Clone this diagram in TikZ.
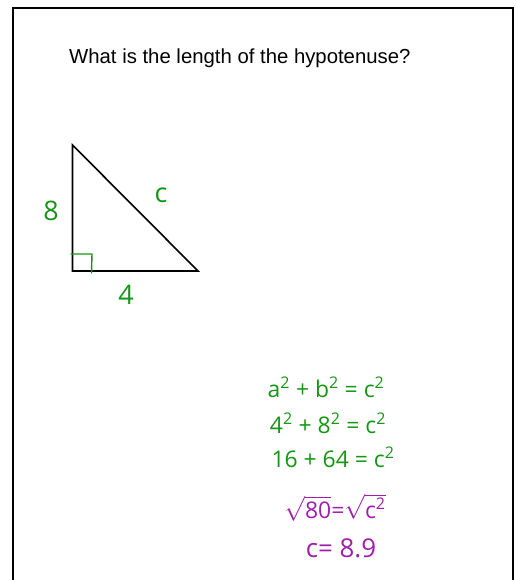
\documentclass[tikz,border=0pt]{standalone}
\usepackage{fontspec}
\setmainfont{Liberation Sans}
\newfontfamily\handfont{Open Sans}
\usetikzlibrary{positioning, calc}
\definecolor{pengreen}{RGB}{20,150,20}
\definecolor{penpurple}{RGB}{160,30,170}
\newcommand{\sqd}{\textsuperscript{2}}

\begin{document}
\begin{tikzpicture}[x=1bp, y=-1bp,
		frame/.style={line width=2bp, black},
		side/.style={line width=1.6bp, black, line join=miter},
		pen/.style={pengreen, line width=1.4bp, line cap=round, line join=round},
		handlabel/.style={text=pengreen, inner sep=0pt, font=\handfont\fontsize{27}{27}\selectfont},
		working/.style={text=pengreen, inner sep=0pt, text depth=0pt, font=\handfont\fontsize{23}{23}\selectfont}
		]
		\useasboundingbox (0,0) rectangle (516,580);
		
		% --- Slide frame (open at the bottom) ---
		\draw[frame] (13,580) -- (13,8) -- (513,8) -- (513,580);
		
		% --- Question ---
		\node[anchor=base west, inner sep=0pt, font=\fontsize{20.4}{20.4}\selectfont] (question) at (69,64)
		{What is the length of the hypotenuse?};
		
		% --- The right triangle ---
		\coordinate (top) at (72.5,145);
		\coordinate (corner) at (72.5,271);
		\coordinate (right) at (198,271);
		\draw[side] (top) -- (corner) -- (right) -- cycle;
		
		% right angle mark
		\draw[pen] (71,254) -- (92,254) -- (91.5,273);
		
		% side labels
		\node[handlabel] (leg8) at (51,211) {8};
		\node[handlabel] (hyp) at (161,195) {c};
		\node[handlabel] (leg4) at (126,295) {4};
		
		% --- Working ---
		\node[working] (step1) at (326,387) {a\sqd{} + b\sqd{} = c\sqd};
		\node[working] (step2) at (328,423) {4\sqd{} + 8\sqd{} = c\sqd};
		\node[working] (step3) at (333,457) {16 + 64 = c\sqd};
		\node[working, text=penpurple] (step4) at (335,506)
		{$\sqrt{\hbox{\handfont 80}}$=$\sqrt{\hbox{\handfont c\sqd}}$};
		\node[working, text=penpurple, font=\handfont\fontsize{26}{26}\selectfont] (step5) at (341,548) {c= 8.9};
		
	\end{tikzpicture}
\end{document}
